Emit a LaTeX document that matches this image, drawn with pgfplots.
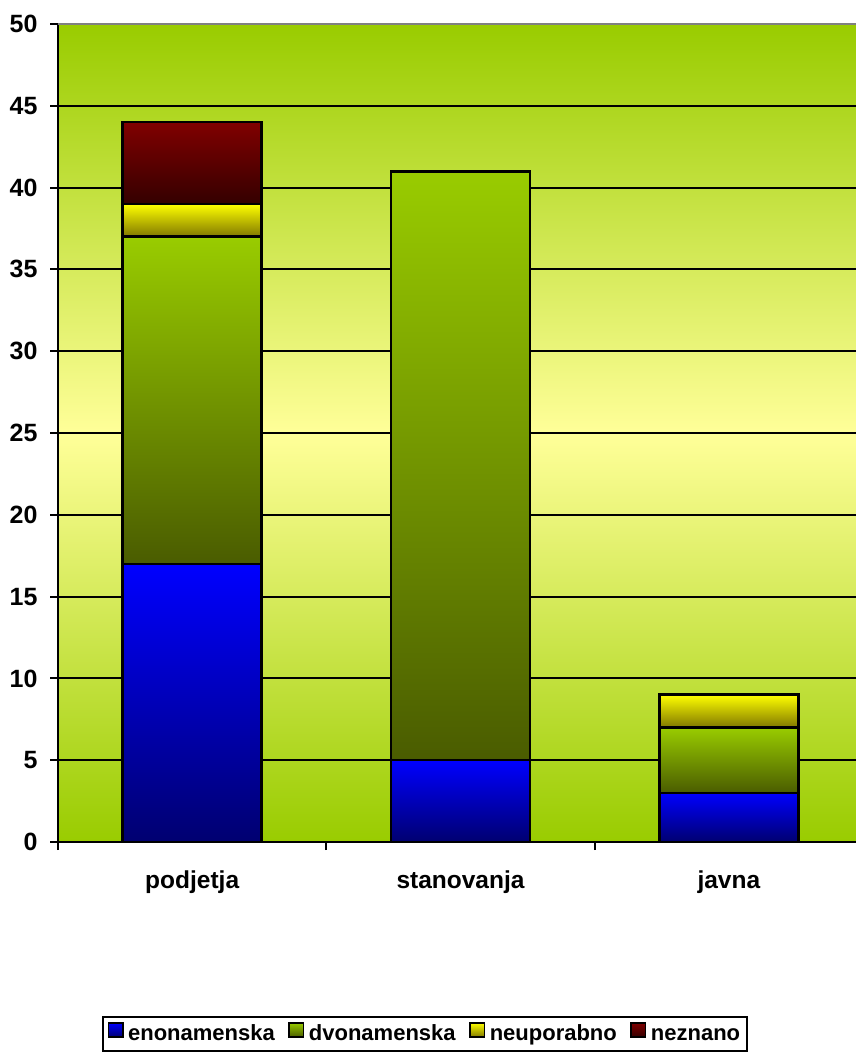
\documentclass[border=0pt]{standalone}
\usepackage{fontspec}
\setmainfont{Liberation Sans}
\usepackage{pgfplots}
\pgfplotsset{compat=1.18}
\definecolor{bgGreen}{HTML}{99CC00}
\definecolor{bgYellow}{HTML}{FFFF99}
\definecolor{bluTop}{HTML}{0000FF}
\definecolor{bluBot}{HTML}{000070}
\definecolor{grnTop}{HTML}{99CC00}
\definecolor{grnBot}{HTML}{4A5C00}
\definecolor{ylwTop}{HTML}{FFFF00}
\definecolor{ylwBot}{HTML}{807800}
\definecolor{redTop}{HTML}{800000}
\definecolor{redBot}{HTML}{340000}
\pgfplotsset{
  common/.style={
    at={(58pt,211pt)}, anchor=south west,
    scale only axis, width=805pt, height=818pt,
    ybar stacked, bar width=139pt,
    xmin=-0.5, xmax=2.5, ymin=0, ymax=50,
  },
  s1/.style={draw=black, line width=2.6pt, top color=bluTop, bottom color=bluBot},
  s2/.style={draw=black, line width=2.6pt, top color=grnTop, bottom color=grnBot},
  s3/.style={draw=black, line width=2.6pt, top color=ylwTop, bottom color=ylwBot},
  s4/.style={draw=black, line width=2.6pt, top color=redTop, bottom color=redBot},
}
\begin{document}
\begin{tikzpicture}[x=1pt,y=1pt]
\useasboundingbox (0,0) rectangle (855,1053);
\begin{axis}[
  common,
  axis lines*=left,
  axis line style={-, black, line width=2pt},
  axis background/.style={top color=bgGreen, bottom color=bgGreen, middle color=bgYellow},
  xtick={0,1,2}, xticklabels={podjetja,stanovanja,javna},
  major x tick style={draw=none},
  minor xtick={-0.5,0.5,1.5,2.5},
  minor x tick style={black, line width=2pt},
  ytick={0,5,...,50},
  y tick style={black, line width=2pt},
  tick align=outside, major tick length=8pt, minor tick length=8pt,
  ymajorgrids, grid style={black, line width=2pt},
  /pgf/number format/assume math mode=true,
  yticklabel style={font=\bfseries\fontsize{25}{28}\selectfont, xshift=-9pt},
  xticklabel style={font=\bfseries\fontsize{24.5}{28}\selectfont, yshift=-17pt},
  legend style={at={(0.4554,-0.2347)}, anchor=center, legend columns=4,
    draw=black, line width=2pt, inner xsep=5pt, inner ysep=5pt,
    font=\bfseries\fontsize{22}{25}\selectfont,
    nodes={inner sep=1.5pt, text height=16pt, text depth=4.5pt},
    /tikz/every odd column/.append style={column sep=3pt},
    /tikz/every even column/.append style={column sep=12pt}},
  legend image code/.code={\draw[#1, line width=1.6pt] (0pt,-3pt) rectangle (14.5pt,11.5pt);},
]
\addplot[s1] coordinates {(0,17)};
\addlegendentry{enonamenska}
\addplot[s2] coordinates {(0,20)};
\addlegendentry{dvonamenska}
\addplot[s3] coordinates {(0,2)};
\addlegendentry{neuporabno}
\addplot[s4] coordinates {(0,5)};
\addlegendentry{neznano}
\draw[gray, line width=2.5pt] (rel axis cs:0,1) -- (rel axis cs:1,1);
\end{axis}
\begin{axis}[common, hide axis]
\addplot[s1] coordinates {(1,5)};
\addplot[s2] coordinates {(1,36)};
\end{axis}
\begin{axis}[common, hide axis]
\addplot[s1] coordinates {(2,3)};
\addplot[s2] coordinates {(2,4)};
\addplot[s3] coordinates {(2,2)};
\end{axis}
\end{tikzpicture}
\end{document}
